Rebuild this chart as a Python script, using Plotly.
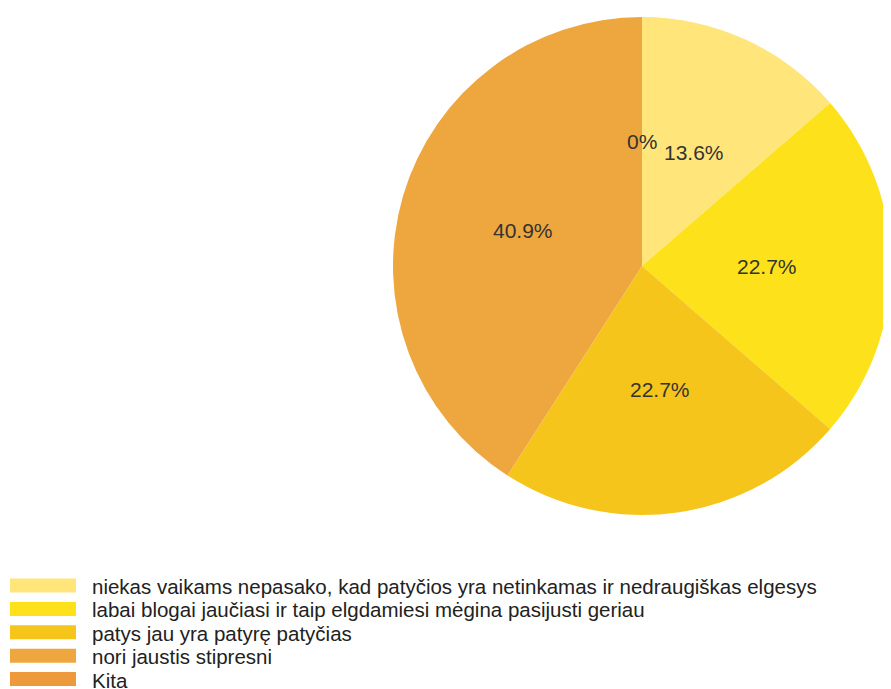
import math
import plotly.graph_objects as go

labels = [
    "niekas vaikams nepasako, kad patyčios yra netinkamas ir nedraugiškas elgesys",
    "labai blogai jaučiasi ir taip elgdamiesi mėgina pasijusti geriau",
    "patys jau yra patyrę patyčias",
    "nori jaustis stipresni",
    "Kita",
]
values = [3, 5, 5, 9, 0]
colors = ["#FFE57A", "#FDE11A", "#F6C51C", "#EEA73E", "#EC9A3B"]

# figure size (page adds an 8px body margin around the figure)
W, H = 883, 681
FONT = "Arial, Liberation Sans, sans-serif"

# pie geometry in figure pixels
R = 249
CX, CY = W - R, 258

fig = go.Figure()
fig.add_trace(go.Pie(
    labels=labels,
    values=values,
    sort=False,
    direction="clockwise",
    rotation=0,
    marker=dict(colors=colors, line=dict(width=0)),
    textinfo="none",
    domain=dict(x=[(CX - R) / W, 1.0], y=[(H - (CY + R)) / H, (H - (CY - R)) / H]),
    showlegend=False,
    hoverinfo="label+percent",
))

annotations = []
shapes = []

# percentage labels at half radius along each slice bisector
total = sum(values)
cum = 0
for v in values:
    frac = v / total
    theta = 2 * math.pi * (cum + frac / 2)
    cum += frac
    px = CX + 0.5 * R * math.sin(theta)
    py = CY - 0.5 * R * math.cos(theta)
    pct = f"{frac * 100:.1f}".rstrip("0").rstrip(".") + "%"
    annotations.append(dict(text=pct, xref="paper", yref="paper",
                            x=px / W, y=1 - py / H, xanchor="center", yanchor="middle",
                            showarrow=False,
                            font=dict(family=FONT, size=21, color="#333333")))

# legend built from the data lists
sw_y0 = 577.5
step = 23.4
for i, (lab, col) in enumerate(zip(labels, colors)):
    yc = sw_y0 + i * step
    shapes.append(dict(type="rect", xref="paper", yref="paper",
                       x0=2 / W, x1=68 / W,
                       y0=1 - (yc + 7) / H, y1=1 - (yc - 7) / H,
                       fillcolor=col, line=dict(width=0)))
    annotations.append(dict(text=lab, xref="paper", yref="paper",
                            x=82 / W, y=1 - (yc + 1) / H, xanchor="left", yanchor="middle",
                            showarrow=False,
                            font=dict(family=FONT, size=20.5, color="#222222")))

fig.update_layout(
    width=W, height=H,
    margin=dict(l=0, r=0, t=0, b=0),
    paper_bgcolor="white",
    plot_bgcolor="white",
    shapes=shapes,
    annotations=annotations,
)
fig.write_html("out.html")
